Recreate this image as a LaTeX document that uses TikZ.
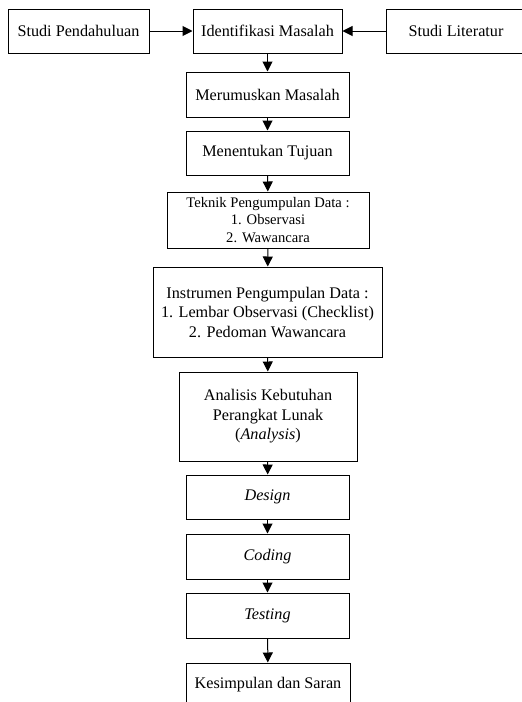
\documentclass[tikz,border=0pt]{standalone}
\usepackage{fontspec}
\setmainfont{Liberation Serif}
\usetikzlibrary{arrows.meta}
\begin{document}
\begin{tikzpicture}[x=1pt,y=-1pt,
  box/.style={draw=black,line width=1pt,fill=white,inner sep=0pt,align=center,
    font=\fontsize{16.2}{19.5}\selectfont},
  smallbox/.style={box,font=\fontsize{14.6}{17.5}\selectfont},
  arr/.style={line width=1pt,-{Triangle[length=10pt,width=10pt]}}]
\useasboundingbox (0,0) rectangle (522,702);
\clip (0,0) rectangle (522,702);
\fill[white] (0,0) rectangle (522,702);
\node[box,minimum width=141pt,minimum height=44pt] (sp) at (78.5,31) {Studi Pendahuluan};
\node[box,minimum width=149pt,minimum height=44pt] (im) at (267.5,31) {Identifikasi Masalah};
\node[box,minimum width=140pt,minimum height=44pt] (sl) at (456,31) {Studi Literatur};
\node[box,minimum width=163pt,minimum height=45pt] (mm) at (267.5,94.5) {Merumuskan Masalah};
\node[box,minimum width=163pt,minimum height=44pt] (mt) at (267.5,153) {Menentukan Tujuan};
\node[smallbox,minimum width=202pt,minimum height=56pt] (tk) at (268,220) {Teknik Pengumpulan Data :\\1. Observasi\\2. Wawancara};
\node[box,minimum width=229pt,minimum height=90pt] (in) at (267.5,312) {Instrumen Pengumpulan Data :\\1. Lembar Observasi (Checklist)\\2. Pedoman Wawancara};
\node[box,minimum width=178pt,minimum height=89pt] (an) at (268,416.5) {Analisis Kebutuhan\\Perangkat Lunak\\(\textit{Analysis})};
\node[box,minimum width=163pt,minimum height=44pt] (de) at (267.5,497) {\textit{Design}};
\node[box,minimum width=163pt,minimum height=45pt] (co) at (267.5,556.5) {\textit{Coding}};
\node[box,minimum width=163pt,minimum height=45pt] (te) at (267.5,615.5) {\textit{Testing}};
\node[box,minimum width=164pt,minimum height=44pt] (ks) at (268,685) {Kesimpulan dan Saran};
\draw[arr] (sp) -- (im);
\draw[arr] (sl) -- (im);
\draw[arr] (im) -- (mm);
\draw[arr] (mm) -- (mt);
\draw[arr] (mt) -- (tk);
\draw[arr] (tk) -- (in);
\draw[arr] (in) -- (an);
\draw[arr] (an) -- (de);
\draw[arr] (de) -- (co);
\draw[arr] (co) -- (te);
\draw[arr] (te) -- (ks);
\end{tikzpicture}
\end{document}
